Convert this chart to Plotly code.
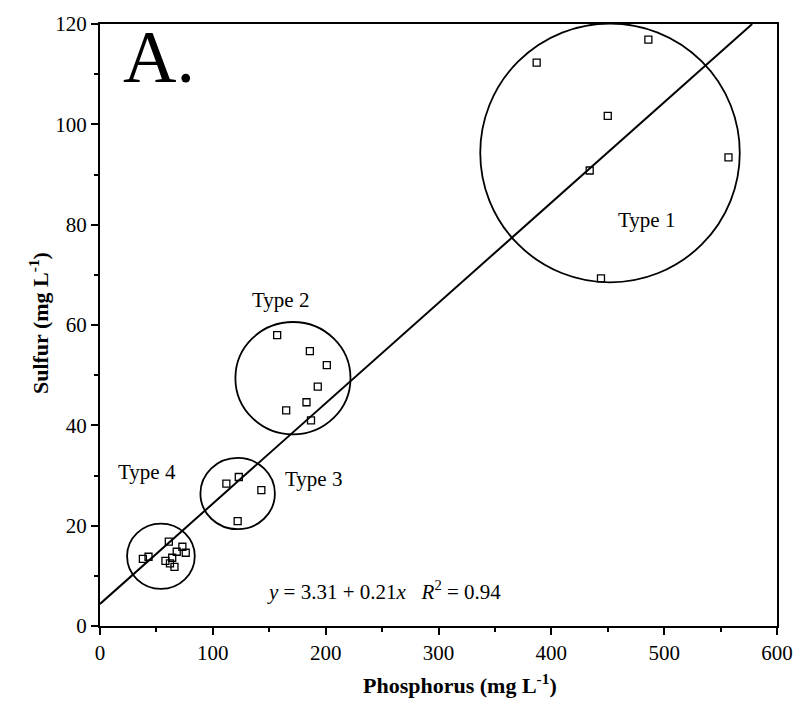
import plotly.graph_objects as go

# ---- data ----
type1_x = [387, 486, 450, 434, 557, 444]
type1_y = [112.3, 116.9, 101.7, 90.8, 93.4, 69.3]

type2_x = [157, 186, 201, 193, 183, 165, 187]
type2_y = [58.0, 54.8, 52.0, 47.7, 44.6, 43.0, 41.0]

type3_x = [112, 123, 143, 122]
type3_y = [28.4, 29.7, 27.1, 20.9]

type4_x = [38, 43, 61, 58, 64, 68, 73, 76, 66, 62]
type4_y = [13.4, 13.8, 16.8, 13.0, 13.6, 14.8, 15.8, 14.6, 11.8, 12.5]

# regression line as drawn
fit_x = [0, 578]
fit_y = [4.4, 120]

# group ellipses (centre x, centre y, radius x, radius y)
circle_cx = [452, 171, 122, 54]
circle_cy = [94.3, 49.4, 26.4, 13.9]
circle_rx = [115, 51, 33, 30]
circle_ry = [25.8, 11.2, 7.1, 6.5]

label_text = ["Type 1", "Type 2", "Type 3", "Type 4"]
label_x = [484, 160, 189, 42]
label_y = [81, 65, 29.3, 30.7]

x_ticks = [0, 100, 200, 300, 400, 500, 600]
y_ticks = [0, 20, 40, 60, 80, 100, 120]

FONT = "Liberation Serif"

fig = go.Figure()

fig.add_trace(go.Scatter(x=fit_x, y=fit_y, mode="lines",
                         line=dict(color="black", width=2), showlegend=False,
                         hoverinfo="skip"))

all_x = type1_x + type2_x + type3_x + type4_x
all_y = type1_y + type2_y + type3_y + type4_y
fig.add_trace(go.Scatter(x=all_x, y=all_y, mode="markers",
                         marker=dict(symbol="square-open", size=7, color="black",
                                     line=dict(width=1.3, color="black")),
                         showlegend=False))

shapes = []
for cx, cy, rx, ry in zip(circle_cx, circle_cy, circle_rx, circle_ry):
    shapes.append(dict(type="circle", xref="x", yref="y",
                       x0=cx - rx, x1=cx + rx, y0=cy - ry, y1=cy + ry,
                       line=dict(color="black", width=1.8)))

annotations = []
for t, lx, ly in zip(label_text, label_x, label_y):
    annotations.append(dict(x=lx, y=ly, xref="x", yref="y", text=t, showarrow=False,
                            xanchor="center", yanchor="middle",
                            font=dict(family=FONT, size=21, color="black")))

annotations.append(dict(x=252, y=7, xref="x", yref="y",
                        text="<i>y</i> = 3.31 + 0.21<i>x</i>   <i>R</i><sup>2</sup> = 0.94",
                        xanchor="center", yanchor="middle",
                        showarrow=False, font=dict(family=FONT, size=21, color="black")))
annotations.append(dict(x=52, y=113.5, xref="x", yref="y", text="A.", showarrow=False,
                        xanchor="center", yanchor="middle",
                        font=dict(family=FONT, size=74, color="black")))
annotations.append(dict(x=(465 - 100) / 686, y=(625.5 - 684) / 607.5, xref="paper", yref="paper",
                        text="<b>Phosphorus (mg L<sup>-1</sup>)</b>", showarrow=False,
                        xanchor="center", yanchor="middle",
                        font=dict(family=FONT, size=22, color="black")))
annotations.append(dict(x=(38 - 100) / 686, y=(625.5 - 320) / 607.5, xref="paper", yref="paper",
                        text="<b>Sulfur (mg L<sup>-1</sup>)</b>", showarrow=False, textangle=-90,
                        xanchor="center", yanchor="middle",
                        font=dict(family=FONT, size=22, color="black")))

axis_common = dict(showline=True, linecolor="black", linewidth=2, mirror=True,
                   showgrid=False, zeroline=False, ticks="outside", ticklen=7,
                   tickwidth=1.5, tickcolor="black",
                   tickfont=dict(family=FONT, size=21, color="black"))

fig.update_layout(
    width=805, height=704,
    margin=dict(l=100, r=19, t=18, b=78),
    paper_bgcolor="white", plot_bgcolor="white",
    shapes=shapes, annotations=annotations,
    xaxis=dict(range=[0, 600], tickvals=x_ticks,
               minor=dict(dtick=50, ticks="outside", ticklen=4, tickcolor="black"),
               **axis_common),
    yaxis=dict(range=[0, 120], tickvals=y_ticks,
               minor=dict(dtick=10, ticks="outside", ticklen=4, tickcolor="black"),
               **axis_common),
)

fig.write_html("out.html")
